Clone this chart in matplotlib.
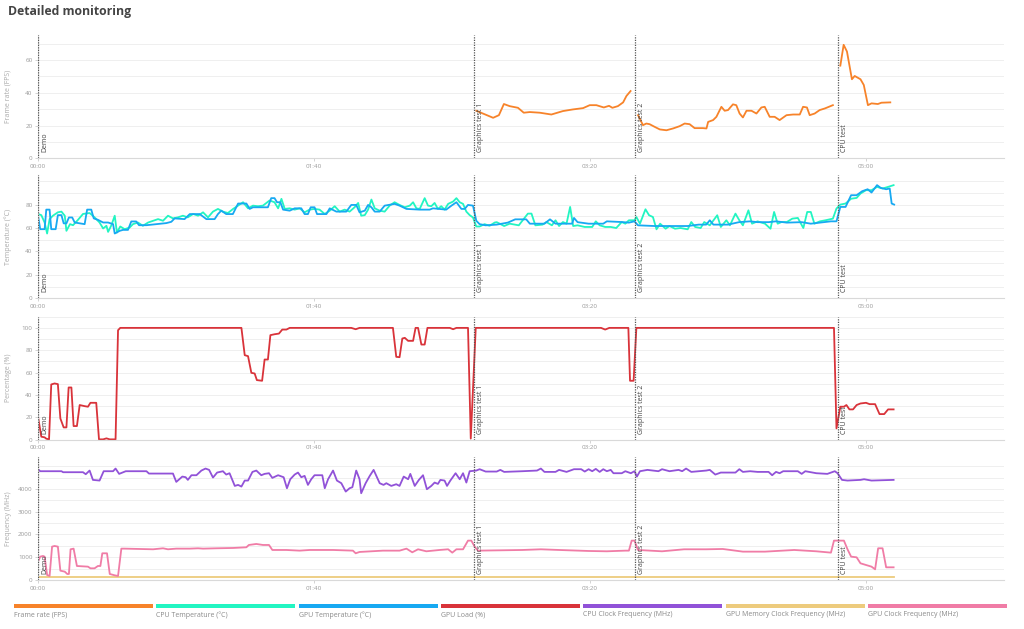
import numpy as np
import matplotlib
matplotlib.use("Agg")
import matplotlib.pyplot as plt
from matplotlib.patches import Rectangle

plt.rcParams["font.family"] = ["Open Sans", "DejaVu Sans"]

# ---- data (time in seconds) ----
EVENT_TIMES = [0, 157.8, 216.2, 289.7]
EVENT_NAMES = ["Demo", "Graphics test 1", "Graphics test 2", "CPU test"]
TICK_SECONDS = [0, 100, 200, 300]
TICK_LABELS = ["00:00", "01:40", "03:20", "05:00"]

FPS_T = [158.8, 161.2, 164.9, 167.0, 168.8, 170.9, 173.9, 176.0, 178.2, 181.8,
         186.0, 190.2, 193.8, 197.5, 199.9, 202.3, 205.0, 206.9, 208.1, 210.1,
         212.0, 213.2, 214.7, 215.5,
         217.4, 219.2, 220.4, 221.6, 223.4, 225.3, 227.7, 230.1, 232.5, 234.3,
         236.1, 237.9, 240.9, 242.2, 242.8, 244.6, 245.8, 247.6, 248.8, 250.0,
         251.8, 253.0, 254.2, 255.4, 256.7, 258.5, 260.3, 262.1, 263.3, 265.1,
         266.9, 268.7, 271.2, 273.6, 276.0, 277.2, 278.6, 279.6, 281.4, 283.2,
         285.1, 288.0, 289.0,
         290.7, 291.9, 293.1, 294.9, 295.9, 298.0, 299.2, 300.7, 302.0, 304.3,
         305.6, 308.8]
FPS_V = [29.0, 27.3, 24.7, 26.3, 33.1, 31.8, 30.8, 27.8, 28.2, 27.8,
         26.7, 28.8, 29.8, 30.6, 32.4, 32.4, 31.0, 32.0, 30.8, 31.8,
         34.1, 38.0, 41.0, np.nan,
         26.3, 20.2, 21.2, 20.8, 19.2, 17.6, 17.1, 18.2, 19.6, 21.2,
         20.8, 18.4, 18.4, 18.2, 22.2, 23.3, 25.3, 31.4, 29.0, 29.4,
         32.9, 32.4, 27.3, 24.9, 29.0, 29.0, 27.3, 31.0, 31.4, 25.3,
         25.3, 23.3, 26.3, 26.7, 26.7, 31.4, 31.0, 26.3, 27.3, 29.4,
         30.4, 32.4, np.nan,
         56.5, 69.2, 65.1, 48.2, 50.2, 48.2, 44.7, 32.4, 33.5, 33.1,
         33.9, 34.1]

CPU_TEMP_T = [0, 1.2, 2.4, 3.3, 4.2, 5.4, 7.2, 8.5, 9.7, 10.3,
              11.6, 12.7, 14.5, 16.3, 18.7, 20.5, 22.3, 23.6, 24.8, 25.4,
              26.6, 27.8, 28.6, 29.8, 31.4, 33.2, 34.4, 36.2, 38.0, 39.9,
              41.7, 43.5, 45.3, 47.1, 48.9, 50.7, 52.5, 54.3, 56.2, 58.0,
              59.8, 61.6, 63.4, 65.2, 67.0, 68.8, 70.7, 72.5, 74.3, 76.1,
              77.9, 79.7, 81.5, 83.9, 85.7, 87.0, 88.2, 89.4, 91.2, 93.0,
              94.8, 96.6, 98.4, 100.2, 102.0, 103.9, 105.7, 107.5, 109.3, 111.1,
              112.9, 114.7, 116.0, 117.1, 118.4, 119.6, 120.8, 122.0, 123.8, 125.6,
              127.4, 129.2, 131.0, 132.9, 134.7, 135.9, 137.1, 138.3, 140.1, 141.3,
              142.5, 143.7, 144.9, 146.1, 147.3, 148.6, 150.4, 151.6, 152.8, 154.0,
              155.2, 156.4, 157.6, 158.8, 160.0, 161.8, 163.6, 165.5,
              166.2, 168.9, 170.9, 174.2, 177.5, 178.8, 180.2, 182.8, 184.2, 186.2,
              187.5, 188.8, 190.2, 191.5, 192.8, 193.9, 195.5, 198.1, 200.8, 202.1,
              203.5, 205.5, 207.5, 209.5, 211.5, 212.8, 214.1, 216.1, 216.8, 218.1,
              220.1, 221.4, 222.8, 224.1, 225.4, 227.4, 228.8, 230.8, 232.8, 235.4,
              236.7, 238.1, 240.1, 241.4, 243.4, 246.1, 247.4, 249.4, 250.7, 252.7,
              254.1, 255.4, 257.4, 258.7, 260.7, 263.4, 265.4, 266.7, 268.0, 269.4,
              271.3, 273.3, 275.3, 277.3, 278.7, 280.0, 281.3, 283.3, 285.3, 288.0,
              289.3, 290.7, 292.6, 294.6, 296.6, 298.0, 300.0, 302.0, 304.0, 306.0,
              308.0, 310.0]
CPU_TEMP_V = [72, 71, 64.7, 55.3, 67.6, 70.5, 73.4, 74, 70.5, 57.6,
              63.3, 62.4, 67, 72, 72.8, 69.1, 64.7, 59.6, 61.9, 56.7,
              62.4, 70.5, 56.1, 61.3, 59, 60.4, 63.3, 64.7, 61.9, 64.7,
              66.2, 67.6, 66.2, 70.5, 68.2, 69.1, 70.5, 69.1, 72, 70.5,
              73.4, 69.1, 74, 76.3, 74, 72.8, 76.3, 79.1, 82, 76.8,
              79.1, 78.6, 79.1, 83.5, 82, 76.8, 84.9, 76.3, 76.8, 75.7,
              76.8, 73.4, 75.7, 76.3, 75.7, 72, 74.8, 78.6, 74, 75.7,
              74, 77.7, 81.4, 70.5, 71, 75.7, 84.3, 76.8, 74.8, 74,
              79.1, 82, 79.7, 77.7, 79.1, 82, 76.8, 76.3, 85.5, 79.1,
              78.6, 81.4, 76.3, 78.6, 75.7, 80.6, 82.6, 85.5, 82, 80.6,
              74, 71, 69, 61.3, 61.3, 63.3, 61.9, 64.7,
              65, 61.7, 63.7, 62.3, 72.3, 72.3, 62.3, 62.9, 65.1, 62.3,
              66.6, 61.7, 65.1, 63.7, 78, 61.7, 62.3, 60.9, 60.9, 65.7,
              62.3, 60.9, 60.9, 60, 65.1, 63.7, 66.6, 66.6, 69.4, 63.7,
              76, 70.9, 69.4, 58.9, 63.7, 59.4, 61.7, 59.4, 60, 58.9,
              65.1, 60.9, 60, 65.1, 62.3, 70.9, 60.9, 66.6, 62.3, 72.3,
              66.6, 62.3, 75.1, 63.7, 65.7, 63.7, 59.4, 73.7, 63.7, 65.1,
              65.1, 68, 68.6, 60, 73.7, 73.7, 63.7, 65.7, 66.6, 68,
              76.6, 80, 80.9, 85, 85.7, 89.4, 92.3, 92.3, 95.1, 93.7,
              95.1, 96.6]

GPU_TEMP_T = [0, 0.8, 2.4, 3.0, 4.2, 4.8, 6.4, 7.2, 8.5, 9.3,
              10.3, 11.2, 12.4, 13.3, 16.9, 17.8, 19.3, 20.2, 21.7, 23.6,
              25.4, 27.2, 27.8, 29.6, 30.8, 32.6, 33.8, 35.6, 36.6, 39.3,
              42.9, 46.5, 48.3, 49.5, 53.1, 55.0, 58.6, 61.0, 64.0, 65.2,
              66.4, 68.2, 70.6, 72.5, 75.5, 76.7, 77.9, 83.3, 84.5, 85.7,
              86.6, 87.8, 88.8, 91.2, 93.0, 95.4, 96.6, 97.8, 98.8, 100.2,
              101.1, 104.5, 105.7, 108.1, 111.7, 113.5, 115.3, 116.5, 118.4, 119.6,
              120.8, 122.0, 123.8, 125.6, 129.2, 131.0, 133.5, 138.3, 141.9, 143.1,
              147.9, 149.8, 151.6, 153.4, 154.6, 155.8, 157.6, 158.8, 160.0, 162.2,
              166.2, 170.2, 172.9, 176.9, 178.2, 183.5, 185.5, 187.5, 193.5, 194.2,
              195.5, 199.5, 204.8, 206.1, 211.5, 214.1, 216.1, 217.4, 223.4, 235.4,
              239.4, 242.1, 243.4, 244.7, 250.0, 254.0, 258.0, 260.7, 264.7, 267.4,
              271.3, 276.7, 280.0, 287.3, 289.3, 290.7, 292.6, 294.6, 296.6, 298.6,
              300.6, 302.0, 304.0, 305.3, 307.3, 308.6, 309.3, 310.2]
GPU_TEMP_V = [70.5, 59, 59, 75.7, 75.7, 59, 59, 71, 71, 64,
              64, 69, 69, 64.7, 63.3, 75.7, 75.7, 68.2, 67, 64.7,
              64.7, 63.3, 55.3, 57.6, 58.4, 58.4, 65.6, 65.6, 62.4, 62.4,
              63.3, 64.2, 65.3, 68.2, 67.6, 71.9, 71.9, 67.6, 67.6, 71.9,
              74.8, 71.9, 71.9, 80.9, 80.9, 76.3, 77.7, 77.7, 85.5, 85.5,
              82, 82, 75.7, 74.8, 76.8, 76.8, 71.9, 71.9, 77.7, 77.7,
              71.9, 71.9, 76.8, 74, 74, 79.7, 79.7, 73.4, 74.8, 79.7,
              77.7, 74, 74, 79.1, 80.6, 79.1, 76.3, 75.7, 75.7, 76.8,
              75.7, 79.1, 82, 76.3, 76.3, 79.7, 79.1, 66.2, 63.3, 62.3,
              62.9, 64.6, 67.4, 67.4, 63.7, 63.7, 67.4, 63.7, 63.7, 68.6,
              65, 63.7, 63.7, 65.7, 65.1, 64.6, 65.7, 62.3, 61.7, 61.7,
              62.9, 62.9, 66.6, 62.9, 62.9, 65, 65.7, 65, 65, 65.7,
              64.6, 65, 63.7, 65.7, 65.7, 78, 78, 88, 88, 91.4,
              93.1, 90.3, 96.6, 94.3, 93.1, 93.7, 80.9, 80]

GPU_LOAD_T = [0, 1.2, 2.4, 3.0, 4.0, 4.8, 6.0, 7.2, 8.1, 9.3,
              10.3, 11.1, 12.1, 12.9, 14.1, 15.1, 16.9, 18.1, 19.0, 21.1,
              22.1, 23.6, 24.8, 26.0, 28.1, 29.0, 29.8, 73.7, 74.9, 76.1,
              77.3, 78.5, 79.3, 81.2, 82.1, 83.3, 84.2, 85.7, 87.3, 88.5,
              90.0, 91.2, 113.5, 115.1, 116.5, 128.6, 129.8, 131.0, 132.0, 132.9,
              134.1, 135.9, 136.8, 137.7, 138.9, 140.1, 141.1, 149.2, 150.4, 151.6,
              155.8, 156.8, 158.6, 204.0, 205.5, 207.0, 213.9, 214.5, 215.8, 216.8,
              288.4, 289.3, 290.7, 292.0, 292.9, 294.0, 295.3, 296.6, 298.0, 300.0,
              301.3, 303.3, 304.9, 306.6, 308.0, 310.0]
GPU_LOAD_V = [20.5, 2.7, 2.1, 0.9, 0.3, 49.4, 50.3, 49.7, 19, 11,
              11, 46.7, 46.7, 12.2, 12.2, 31, 30, 29.5, 33, 33,
              0.3, 0.3, 1.2, 0.3, 0.3, 97.9, 100, 100, 75.6, 74.7,
              59.8, 59.2, 53.3, 52.7, 71.7, 71.7, 93.5, 94.3, 94.9, 98.5,
              98.5, 100, 100, 98.8, 100, 100, 74.1, 73.8, 90.5, 91.1,
              88.4, 88.4, 100, 100, 85.1, 85.1, 100, 100, 98.8, 100,
              100, 1.0, 100, 100, 98.5, 100, 100, 52.7, 52.7, 100,
              100, 10.1, 29.5, 29.5, 31, 27.1, 27.1, 31, 32.4, 33,
              31.8, 31.8, 22.9, 22.9, 27.1, 27.1]

CPU_CLOCK_T = [0, 0.8, 8.5, 9.1, 16.3, 17.3, 18.7, 19.9, 22.3, 23.8,
               27.2, 28.1, 29.4, 31.8, 39.3, 40.2, 48.9, 50.1, 52.3, 53.5,
               54.3, 55.6, 57.4, 59.2, 60.7, 62.0, 63.4, 64.9, 67.0, 68.2,
               69.4, 71.3, 72.5, 73.7, 74.9, 76.1, 77.7, 79.1, 80.9, 82.1,
               83.7, 84.9, 87.0, 89.0, 90.2, 91.4, 93.0, 94.2, 95.4, 96.6,
               97.8, 99.0, 100.2, 103.0, 103.9, 105.1, 106.9, 108.3, 109.9, 111.5,
               112.9, 113.9, 115.3, 116.5, 117.1, 118.7, 120.2, 121.6, 123.8, 125.2,
               126.2, 128.0, 129.8, 131.0, 132.5, 134.1, 134.9, 136.5, 138.0, 139.5,
               140.9, 142.5, 143.7, 144.9, 145.8, 147.3, 148.2, 149.4, 151.3, 152.8,
               154.0, 155.2, 156.4, 158.8, 160.0, 162.2, 166.2, 167.5, 168.9, 175.5,
               180.8, 182.2, 183.5, 187.5, 188.8, 191.5, 194.2, 196.8, 198.1, 199.5,
               200.8, 202.1, 203.5, 204.8, 206.1, 207.5, 208.5, 211.5, 212.8, 214.8,
               216.1, 217.0, 218.1, 220.8, 224.8, 226.1, 228.8, 232.1, 233.4, 234.8,
               236.7, 242.1, 243.4, 245.4, 247.4, 252.7, 254.1, 255.4, 258.0, 260.7,
               264.7, 266.0, 267.4, 268.7, 270.0, 275.3, 276.7, 278.0, 282.0, 286.0,
               288.7, 289.7, 291.3, 293.3, 298.0, 299.3, 302.0, 310.0]
CPU_CLOCK_V = [4864, 4776, 4776, 4732, 4732, 4644, 4805, 4395, 4366, 4776,
               4776, 4893, 4659, 4776, 4776, 4673, 4673, 4307, 4541, 4512,
               4395, 4600, 4600, 4805, 4893, 4834, 4497, 4717, 4776, 4629,
               4688, 4131, 4175, 4102, 4366, 4366, 4746, 4805, 4600, 4659,
               4688, 4483, 4600, 4512, 4029, 4424, 4629, 4717, 4512, 4571,
               4175, 4424, 4600, 4600, 4029, 4424, 4805, 4366, 4249, 3882,
               4029, 4073, 4805, 4424, 3809, 4249, 4571, 4834, 4249, 4175,
               4249, 4131, 4205, 4131, 4541, 4424, 4659, 4131, 4395, 4600,
               3985, 4131, 4278, 4219, 4395, 4366, 4131, 4366, 4688, 4424,
               4688, 4278, 4776, 4805, 4864, 4761, 4761, 4834, 4746, 4776,
               4805, 4893, 4746, 4746, 4834, 4746, 4864, 4864, 4761, 4864,
               4776, 4878, 4746, 4864, 4776, 4834, 4688, 4688, 4776, 4688,
               4776, 4541, 4776, 4834, 4776, 4864, 4776, 4834, 4776, 4893,
               4746, 4805, 4834, 4629, 4717, 4717, 4864, 4746, 4776, 4746,
               4746, 4600, 4746, 4688, 4776, 4776, 4659, 4776, 4688, 4659,
               4776, 4688, 4395, 4366, 4395, 4424, 4366, 4395]

GPU_MEM_CLOCK_T = [0, 310.0]
GPU_MEM_CLOCK_V = [150, 150]

GPU_CLOCK_T = [0, 0.8, 1.8, 2.4, 3.3, 4.2, 5.1, 6.0, 7.2, 8.1,
               9.7, 10.6, 11.2, 11.8, 12.9, 14.1, 18.1, 19.0, 20.5, 21.7,
               22.6, 23.3, 25.0, 26.0, 27.8, 29.0, 30.2, 31.4, 41.7, 45.3,
               47.1, 50.1, 55.0, 58.0, 59.8, 64.6, 70.7, 75.5, 76.4, 79.1,
               81.5, 83.7, 84.9, 90.0, 94.8, 98.4, 106.9, 114.1, 115.1, 116.5,
               125.0, 131.0, 133.5, 135.6, 137.7, 140.7, 145.5, 148.6, 150.1, 151.6,
               154.0, 155.8, 157.0, 158.2, 159.4, 175.5, 182.2, 188.8, 199.5, 206.1,
               212.8, 214.1, 215.1, 216.1, 217.4, 226.1, 234.1, 242.1, 248.1, 255.4,
               263.4, 274.0, 282.0, 287.3, 288.4, 292.0, 293.3, 294.6, 296.6, 298.0,
               300.0, 302.0, 303.3, 304.4, 306.0, 307.3, 310.0]
GPU_CLOCK_V = [806, 1026, 1055, 1026, 220, 176, 1465, 1494, 1465, 410,
               366, 264, 264, 1348, 1377, 615, 586, 513, 513, 615,
               615, 1172, 1172, 264, 205, 176, 1377, 1377, 1348, 1392,
               1348, 1377, 1377, 1392, 1377, 1392, 1406, 1436, 1538, 1582,
               1538, 1538, 1318, 1318, 1289, 1318, 1318, 1289, 1172, 1231,
               1289, 1289, 1377, 1216, 1348, 1260, 1318, 1348, 1201, 1348,
               1348, 1729, 1729, 1465, 1289, 1318, 1348, 1318, 1274, 1260,
               1289, 1289, 1729, 1729, 1318, 1260, 1348, 1348, 1362, 1245,
               1245, 1318, 1260, 1201, 1729, 1729, 1348, 1026, 996, 733,
               659, 586, 469, 1392, 1392, 557, 557]

SERIES_NAMES = ["Frame rate (FPS)", "CPU Temperature (°C)", "GPU Temperature (°C)",
                "GPU Load (%)", "CPU Clock Frequency (MHz)",
                "GPU Memory Clock Frequency (MHz)", "GPU Clock Frequency (MHz)"]
SERIES_COLORS = ["#F7832A", "#22F5C2", "#17A9F2", "#D9333A", "#9152D8",
                 "#EDCB7D", "#F07CA6"]

# ---- figure ----
W, H = 1024, 629
fig = plt.figure(figsize=(W / 100, H / 100), dpi=100)
fig.patch.set_facecolor("white")

fig.text(8 / W, 1 - 12 / H, "Detailed monitoring", fontsize=8.8,
         fontweight="bold", color="#444444", va="center", ha="left")

panels = [
    # (zero line y px, ymax, last labelled tick, label step, grid step, y label, series)
    (158.3, 75, 60, 20, 10, "Frame rate (FPS)", [(FPS_T, FPS_V, 0)]),
    (298.3, 105, 80, 20, 10, "Temperature (°C)",
     [(CPU_TEMP_T, CPU_TEMP_V, 1), (GPU_TEMP_T, GPU_TEMP_V, 2)]),
    (439.7, 110, 100, 20, 10, "Percentage (%)", [(GPU_LOAD_T, GPU_LOAD_V, 3)]),
    (580.0, 5400, 4000, 1000, 500, "Frequency (MHz)",
     [(CPU_CLOCK_T, CPU_CLOCK_V, 4), (GPU_MEM_CLOCK_T, GPU_MEM_CLOCK_V, 5),
      (GPU_CLOCK_T, GPU_CLOCK_V, 6)]),
]

AX_L, AX_R, AX_H = 38, 1004, 123
for y0, ymax, ytop, step, gstep, ylabel, series in panels:
    ax = fig.add_axes([AX_L / W, 1 - y0 / H, (AX_R - AX_L) / W, AX_H / H])
    ax.set_xlim(0, 350)
    ax.set_ylim(0, ymax)
    for s in ("top", "right"):
        ax.spines[s].set_visible(False)
    for s in ("left", "bottom"):
        ax.spines[s].set_color("#d9d9d9")
        ax.spines[s].set_linewidth(0.8)

    for g in np.arange(gstep, ymax + 1e-6, gstep):
        ax.axhline(g, color="#efefef", lw=0.7, zorder=0)

    ax.set_xticks(TICK_SECONDS)
    ax.set_xticklabels(TICK_LABELS)
    ax.set_yticks(np.arange(0, ytop + 1e-6, step))
    ax.tick_params(axis="both", labelsize=4.5, labelcolor="#9a9a9a",
                   color="#cccccc", length=2.5, width=0.6, pad=1.5)

    ax.set_ylabel(ylabel, fontsize=5, color="#aaaaaa")
    ax.yaxis.set_label_coords(-26 / (AX_R - AX_L), 0.5)

    for t, name in zip(EVENT_TIMES, EVENT_NAMES):
        ax.axvline(t, color="#555555", lw=0.9, ls=(0, (1, 1)), zorder=3)
        ax.text(t + 1.1, 0.05, name, transform=ax.get_xaxis_transform(),
                rotation=90, fontsize=5, color="#444444",
                ha="left", va="bottom", zorder=4)

    for t_arr, v_arr, idx in series:
        ax.plot(t_arr, v_arr, color=SERIES_COLORS[idx], lw=1.3, zorder=2,
                solid_joinstyle="round")

# ---- legend strip ----
for i, (name, color) in enumerate(zip(SERIES_NAMES, SERIES_COLORS)):
    x0 = 14 + i * 142.3
    fig.add_artist(Rectangle((x0 / W, 1 - 607.5 / H), 139 / W, 4 / H,
                             transform=fig.transFigure, color=color, lw=0))
    fig.text(x0 / W, 1 - 615 / H, name, fontsize=5, color="#8a8a8a",
             ha="left", va="center")

fig.savefig("out.png", dpi=100)
